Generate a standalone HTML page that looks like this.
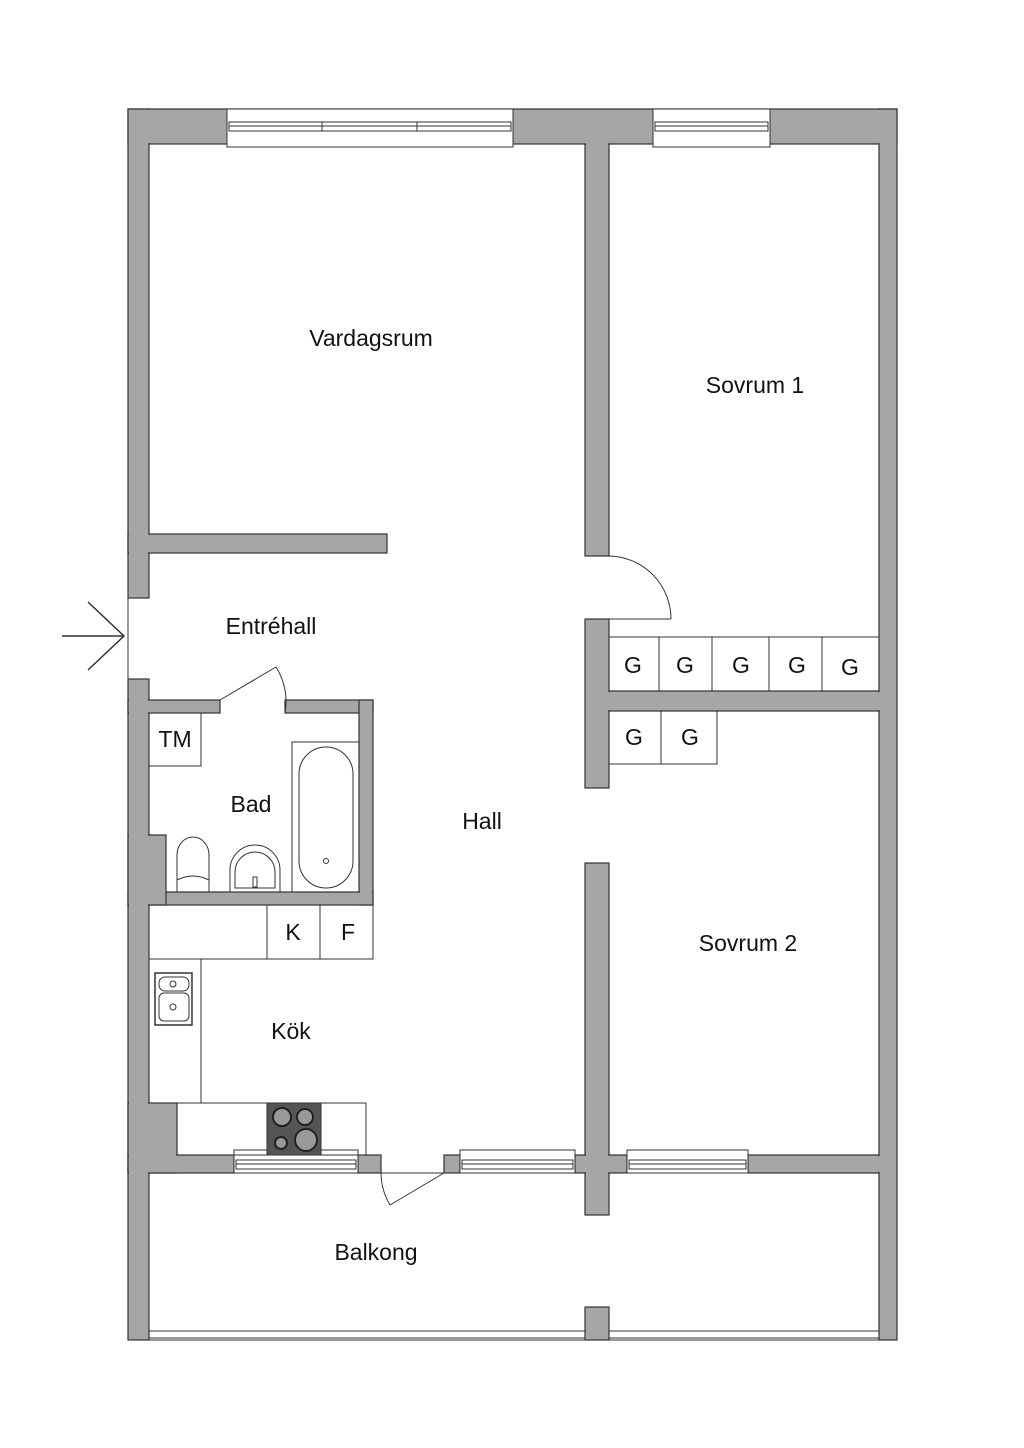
<!DOCTYPE html>
<html><head><meta charset="utf-8"><style>
html,body{margin:0;padding:0;background:#fff;width:1024px;height:1448px;overflow:hidden}
svg{display:block}
text{font-family:"Liberation Sans",sans-serif;fill:#111}
</style></head><body>
<svg width="1024" height="1448" viewBox="0 0 1024 1448">
<g fill="#a6a6a6" stroke="#333" stroke-width="1.2">
<!-- top wall -->
<rect x="128" y="109" width="769" height="35"/>
<!-- left wall -->
<rect x="128" y="109" width="21" height="489"/>
<rect x="128" y="679" width="21" height="661"/>
<!-- right wall -->
<rect x="879" y="109" width="18" height="1231"/>
<!-- vardagsrum wall -->
<rect x="128" y="534" width="259" height="19"/>
<!-- center vertical walls -->
<rect x="585" y="144" width="24" height="412"/>
<rect x="585" y="619" width="24" height="169"/>
<rect x="585" y="863" width="24" height="352"/>
<rect x="585" y="1307" width="24" height="33"/>
<!-- wardrobe wall -->
<rect x="609" y="691" width="270" height="20"/>
<!-- bath walls -->
<rect x="128" y="700" width="92" height="13"/>
<rect x="285" y="700" width="88" height="13"/>
<rect x="359" y="700" width="14" height="205"/>
<rect x="128" y="892" width="245" height="13"/>
<rect x="128" y="835" width="38" height="70"/>
<!-- kitchen left thick -->
<rect x="128" y="1103" width="49" height="70"/>
<!-- bottom wall -->
<rect x="128" y="1155" width="106" height="18"/>
<rect x="358" y="1155" width="23" height="18"/>
<rect x="444" y="1155" width="16" height="18"/>
<rect x="575" y="1155" width="52" height="18"/>
<rect x="748" y="1155" width="131" height="18"/>
</g>
<!-- clean internal joins -->
<g fill="#a6a6a6">
<rect x="129" y="110" width="767" height="33"/>
<rect x="129" y="110" width="19" height="487"/>
<rect x="129" y="535" width="20" height="17"/>
<rect x="129" y="680" width="19" height="659"/>
<rect x="880" y="110" width="16" height="1229"/>
<rect x="586" y="140" width="22" height="415"/>
<rect x="586" y="620" width="22" height="167"/>
<rect x="586" y="692" width="24" height="18"/>
<rect x="870" y="692" width="10" height="18"/>
<rect x="129" y="701" width="20" height="11"/>
<rect x="129" y="836" width="36" height="68"/>
<rect x="360" y="701" width="12" height="203"/>
<rect x="360" y="893" width="12" height="11"/>
<rect x="129" y="1104" width="47" height="68"/>
<rect x="586" y="864" width="22" height="350"/>
<rect x="576" y="1156" width="50" height="16"/>
<rect x="870" y="1156" width="12" height="16"/>
</g>
<!-- top windows -->
<g fill="#fff" stroke="#333" stroke-width="1">
<rect x="227" y="109" width="286" height="38"/>
<rect x="229" y="122" width="282" height="9"/>
<line x1="229" y1="126" x2="511" y2="126"/>
<line x1="322" y1="122" x2="322" y2="131"/>
<line x1="417" y1="122" x2="417" y2="131"/>
<rect x="653" y="109" width="117" height="38"/>
<rect x="655" y="122" width="113" height="9"/>
<line x1="655" y1="126" x2="768" y2="126"/>
<!-- bottom windows -->
<rect x="234" y="1150" width="124" height="23"/>
<rect x="236" y="1160" width="120" height="9"/>
<rect x="460" y="1150" width="115" height="23"/>
<rect x="462" y="1160" width="111" height="9"/>
<rect x="627" y="1150" width="121" height="23"/>
<rect x="629" y="1160" width="117" height="9"/>
</g>
<g fill="none" stroke="#333" stroke-width="1">
<line x1="236" y1="1164" x2="356" y2="1164"/>
<line x1="462" y1="1164" x2="573" y2="1164"/>
<line x1="629" y1="1164" x2="746" y2="1164"/>
<!-- entrance line -->
<line x1="128" y1="598" x2="128" y2="679"/>
<!-- balcony door sill -->
<line x1="381" y1="1173" x2="444" y2="1173"/>
<!-- balcony railing -->
<line x1="149" y1="1331" x2="585" y2="1331"/>
<line x1="149" y1="1338" x2="585" y2="1338"/>
<line x1="609" y1="1331" x2="879" y2="1331"/>
<line x1="609" y1="1338" x2="879" y2="1338"/>
<line x1="128" y1="1340" x2="897" y2="1340"/>
<!-- doors -->
<line x1="609" y1="619" x2="671" y2="619"/>
<path d="M609 556 A63 63 0 0 1 671 619"/>
<line x1="220" y1="700" x2="276" y2="667"/>
<path d="M276 667 A64 64 0 0 1 285 713"/>
<line x1="444" y1="1173" x2="390" y2="1205"/>
<path d="M381 1173 A63 63 0 0 0 390 1205"/>
<!-- arrow -->
<line x1="62" y1="636" x2="124" y2="636" stroke-width="1.5"/>
<polyline points="88,602 124,636 88,670" stroke-width="1.5"/>
<!-- wardrobes -->
<rect x="609" y="637" width="270" height="54"/>
<line x1="659" y1="637" x2="659" y2="691"/>
<line x1="712" y1="637" x2="712" y2="691"/>
<line x1="769" y1="637" x2="769" y2="691"/>
<line x1="822" y1="637" x2="822" y2="691"/>
<rect x="609" y="711" width="108" height="53"/>
<line x1="661" y1="711" x2="661" y2="764"/>
<!-- bath fixtures -->
<rect x="149" y="713" width="52" height="53"/>
<rect x="292" y="742" width="67" height="150"/>
<rect x="299" y="747" width="54" height="141" rx="27"/>
<circle cx="326" cy="861" r="2.5"/>
<path d="M177 892 L177 855 A16 18 0 0 1 209 855 L209 892"/>
<path d="M177 880 Q193 872 209 880"/>
<path d="M230 892 L230 870 A25 25 0 0 1 280 870 L280 892"/>
<path d="M235 888 L235 872 A20 20 0 0 1 275 872 L275 888 Z"/>
<rect x="253" y="877" width="4" height="10"/>
<!-- kitchen -->
<rect x="149" y="905" width="224" height="54"/>
<line x1="267" y1="905" x2="267" y2="959"/>
<line x1="320" y1="905" x2="320" y2="959"/>
<rect x="149" y="959" width="52" height="144"/>
<rect x="177" y="1103" width="189" height="52"/>
<rect x="155" y="973" width="37" height="52" stroke-width="1.5"/>
<rect x="159" y="977" width="30" height="14" rx="6"/>
<rect x="159" y="993" width="30" height="28" rx="5"/>
<circle cx="173" cy="984" r="3"/>
<circle cx="173" cy="1007" r="3"/>
</g>
<rect x="267" y="1103" width="54" height="52" fill="#555" stroke="#333"/>
<g fill="#999" stroke="#222" stroke-width="2">
<circle cx="282" cy="1117" r="9"/>
<circle cx="305" cy="1117" r="8"/>
<circle cx="281" cy="1143" r="6"/>
<circle cx="306" cy="1140" r="11"/>
</g>
<!-- labels -->
<g font-size="23">
<text x="371" y="346" text-anchor="middle">Vardagsrum</text>
<text x="755" y="393" text-anchor="middle">Sovrum 1</text>
<text x="271" y="634" text-anchor="middle">Entréhall</text>
<text x="251" y="812" text-anchor="middle">Bad</text>
<text x="482" y="829" text-anchor="middle">Hall</text>
<text x="748" y="951" text-anchor="middle">Sovrum 2</text>
<text x="291" y="1039" text-anchor="middle">Kök</text>
<text x="376" y="1260" text-anchor="middle">Balkong</text>
<text x="175" y="747" text-anchor="middle">TM</text>
<text x="293" y="940" text-anchor="middle">K</text>
<text x="348" y="940" text-anchor="middle">F</text>
<text x="633" y="673" text-anchor="middle">G</text>
<text x="685" y="673" text-anchor="middle">G</text>
<text x="741" y="673" text-anchor="middle">G</text>
<text x="797" y="673" text-anchor="middle">G</text>
<text x="850" y="675" text-anchor="middle">G</text>
<text x="634" y="745" text-anchor="middle">G</text>
<text x="690" y="745" text-anchor="middle">G</text>
</g>
</svg>
</body></html>
